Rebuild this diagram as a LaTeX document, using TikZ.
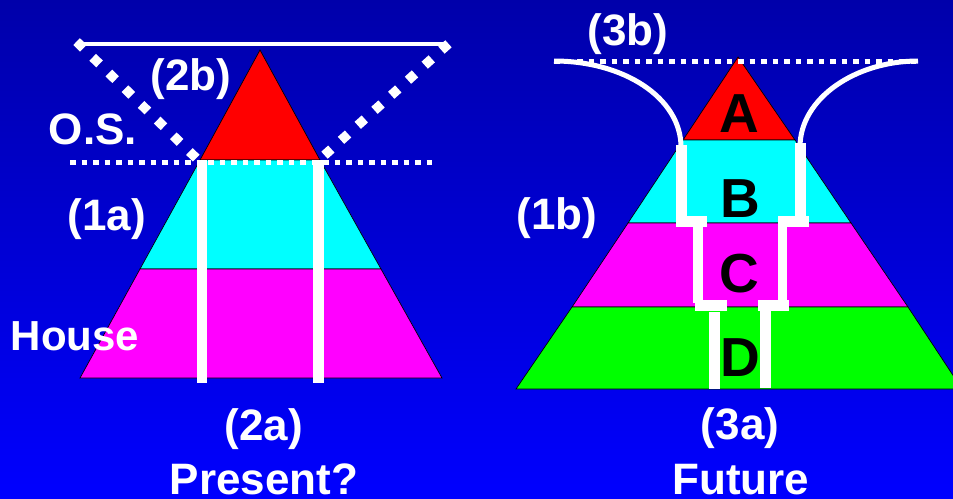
\documentclass[tikz,border=0pt]{standalone}
\usepackage{fontspec}
\setmainfont{Liberation Sans}
\tikzset{
  lbl/.style={text=white, font=\bfseries\fontsize{44}{50}\selectfont, inner sep=0pt, anchor=base},
  letter/.style={text=black, font=\bfseries\fontsize{55}{60}\selectfont, inner sep=0pt, anchor=base},
  layer/.style={draw=black, line width=0.7pt},
  dotline/.style={white, line width=5pt, dash pattern=on 5.5pt off 6pt},
  diagdots/.style={white, line width=9.5pt, dash pattern=on 9.5pt off 13pt},
  bar/.style={fill=white},
  curve/.style={white, line width=5pt},
}
\definecolor{bgtop}{RGB}{0,0,170}
\definecolor{bgbot}{RGB}{0,0,255}
\definecolor{lred}{RGB}{255,0,0}
\definecolor{lcyan}{RGB}{0,255,255}
\definecolor{lmag}{RGB}{255,0,255}
\definecolor{lgreen}{RGB}{0,255,0}
\begin{document}
\begin{tikzpicture}[x=1pt, y=-1pt]
\useasboundingbox (0,0) rectangle (953,498);
\shade[top color=bgtop, bottom color=bgbot] (0,0) rectangle (953,498);

% ---------- left pyramid ----------
\fill[lred, layer] (260,50) -- (320,160) -- (200,160) -- cycle;
\fill[lcyan, layer] (200,160) -- (320,160) -- (381,269) -- (140,269) -- cycle;
\fill[lmag, layer] (140,269) -- (381,269) -- (442,378) -- (80,378) -- cycle;

% white pillars
\fill[bar] (197,160) rectangle (207,383);
\fill[bar] (313,160) rectangle (324,383);

% O.S. line and cone
\coordinate (osL) at (70,162);
\coordinate (osR) at (436,162);
\draw[dotline] (osL) -- (osR);
\coordinate (topL) at (80,44);
\coordinate (topR) at (446,44);
\draw[white, line width=4.5pt] (topL) -- (topR);
\coordinate (tL) at (76.6,41.6);
\coordinate (dL) at (196.4,158.3);
\coordinate (tR) at (448.5,43.8);
\coordinate (dR) at (324.5,155.2);
\draw[diagdots] (tL) -- (dL);
\draw[diagdots] (tR) -- (dR);

% ---------- right pyramid ----------
\begin{scope}
\clip (0,0) rectangle (953,498);
\fill[lred, layer] (738,57) -- (795,140) -- (683,140) -- cycle;
\fill[lcyan, layer] (683,140) -- (795,140) -- (851,223) -- (628,223) -- cycle;
\fill[lmag, layer] (628,223) -- (851,223) -- (908,307) -- (572,307) -- cycle;
\fill[lgreen, layer] (572,307) -- (908,307) -- (962,389) -- (516,389) -- cycle;
\end{scope}

% top dotted line
\coordinate (fL) at (554,61);
\coordinate (fR) at (918,61);
\draw[dotline] (fL) -- (fR);

% curves
\coordinate (cL) at (681,147);
\coordinate (cR) at (800,147);
\draw[curve] (fL) .. controls (624,61) and (681,98) .. (cL);
\draw[curve] (fR) .. controls (856,61) and (800,98) .. (cR);

% staircase left
\fill[bar] (676,145) rectangle (687,227);
\fill[bar] (676,216) rectangle (707,227);
\fill[bar] (693,227) rectangle (703,303);
\fill[bar] (695,300) rectangle (727,311);
\fill[bar] (709,312) rectangle (720,389);
% staircase right
\fill[bar] (795,143) rectangle (806,227);
\fill[bar] (778,216) rectangle (809,227);
\fill[bar] (778,227) rectangle (787,300);
\fill[bar] (758,300) rectangle (789,311);
\fill[bar] (760,311) rectangle (771,388);

% letters
\node[letter] (A) at (739,132) {A};
\node[letter] (B) at (740,217) {B};
\node[letter] (C) at (739,292) {C};
\node[letter] (D) at (740,376) {D};

% labels
\node[lbl] (l2b) at (191,90) {(2b)};
\node[lbl] (los) at (93,144) {O.S.};
\node[lbl] (l1a) at (107,230) {(1a)};
\node[lbl, font=\bfseries\fontsize{42}{50}\selectfont] (lhouse) at (75,350) {House};
\node[lbl] (l2a) at (264,440) {(2a)};
\node[lbl] (lpres) at (264,494) {Present?};
\node[lbl] (l3b) at (628,45) {(3b)};
\node[lbl] (l1b) at (557,229) {(1b)};
\node[lbl] (l3a) at (740,439) {(3a)};
\node[lbl] (lfut) at (741,494) {Future};
\end{tikzpicture}
\end{document}
